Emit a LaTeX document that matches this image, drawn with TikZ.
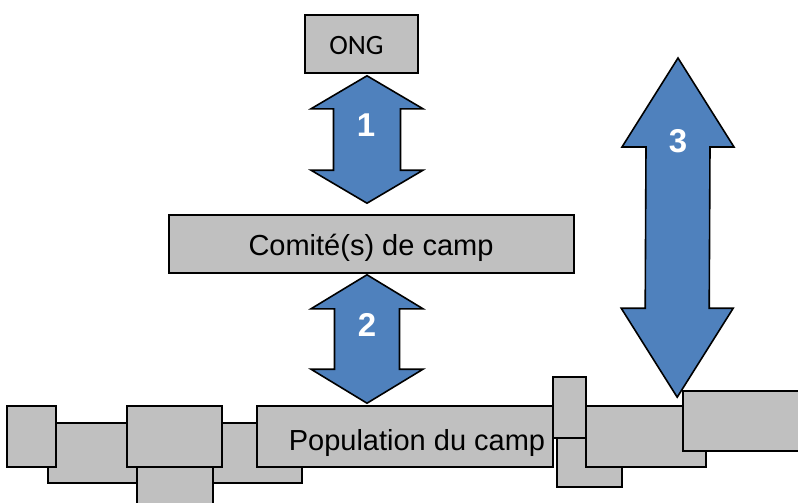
\documentclass[tikz,border=0pt]{standalone}
\usepackage{fontspec}
\setmainfont{Liberation Sans}
\newfontfamily\ongfont{Carlito}
\usetikzlibrary{calc}

\definecolor{boxgray}{HTML}{C0C0C0}
\definecolor{arrowblue}{HTML}{4F81BD}

% double arrow between two points: top, bottom, head length, half shaft width
\newcommand{\dblarrow}[4]{%
  \draw[bigarrow] (#1) -- ++(56,#3) -- ++(-56+#4,0) -- ($(#2)+(#4,-#3)$)
    -- ++(56-#4,0) -- (#2) -- ++(-56,-#3) -- ++(56-#4,0)
    -- ($(#1)+(-#4,#3)$) -- ++(-56+#4,0) -- cycle;}

\begin{document}
\begin{tikzpicture}
[x=1pt,y=-1pt,line width=1.6pt]
\tikzstyle{box}=[rectangle, draw=black, fill=boxgray, inner sep=0pt]
\tikzstyle{bigarrow}=[draw=black, fill=arrowblue, line join=miter]
\tikzstyle{num}=[text=white, inner sep=0pt, font=\fontsize{33}{38}\selectfont\bfseries]
\tikzstyle{lbl}=[anchor=base, inner sep=0pt, font=\fontsize{29}{34}\selectfont]

\useasboundingbox (0,0) rectangle (798,503);

\node[box, minimum width=113pt, minimum height=58pt] (ong) at (361.5,44) {};
\node[lbl, font=\ongfont\fontsize{28}{32}\selectfont] (ong_text) at (356.5,55) {ONG};

\node[box, minimum width=405pt, minimum height=58pt] (comite) at (371.5,244) {};
\node[lbl] (comite_text) at (371,255) {Comité(s) de camp};

% the camp
\node[box, minimum width=120pt, minimum height=60pt] (hut_b) at (108,453) {};
\node[box, minimum width=89pt, minimum height=60pt] (hut_e) at (257.5,453) {};
\node[box, minimum width=76pt, minimum height=65pt] (hut_d) at (175,482.5) {};
\node[box, minimum width=49pt, minimum height=61pt] (hut_a) at (31.5,436.5) {};
\node[box, minimum width=95pt, minimum height=61pt] (hut_c) at (174.5,436.5) {};
\node[box, minimum width=296pt, minimum height=61pt] (pop) at (405,436.5) {};
\node[lbl] (pop_text) at (417,450) {Population du camp};
\node[box, minimum width=65pt, minimum height=49pt] (hut_g) at (589.5,462.5) {};
\node[box, minimum width=120pt, minimum height=61pt] (hut_h) at (646,436.5) {};
\node[box, minimum width=33pt, minimum height=61pt] (hut_f) at (569.5,407.5) {};
\node[box, minimum width=127pt, minimum height=60pt] (hut_i) at (746.5,421) {};

\coordinate (a1_top) at ($(ong.south)+(5.5,2)$);
\coordinate (a1_bot) at ($(comite.north)+(-4.5,-11)$);
\coordinate (a2_top) at ($(comite.south)+(-4.5,1)$);
\coordinate (a2_bot) at ($(pop.north)+(-38,-2)$);
\coordinate (a3_top) at (678,58);
\coordinate (a3_bot) at ($(hut_i.north west)+(-5,7)$);

\dblarrow{a1_top}{a1_bot}{33}{33.5}
\dblarrow{a2_top}{a2_bot}{34}{32.5}
\dblarrow{a3_top}{a3_bot}{89}{32}

\node[num] (num_1) at (366,125) {1};
\node[num] (num_2) at (367,324.5) {2};
\node[num] (num_3) at (678,141) {3};
\end{tikzpicture}
\end{document}
